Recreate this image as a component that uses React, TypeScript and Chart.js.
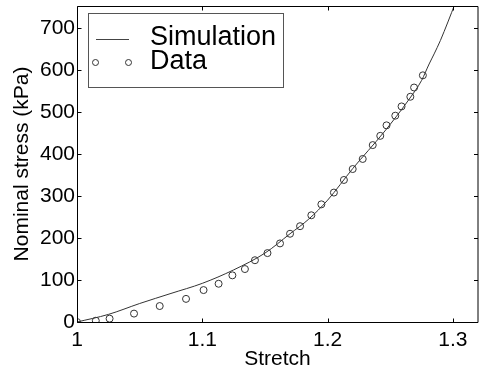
import React, { useEffect, useRef } from "react";
import { Chart, registerables } from "chart.js";

Chart.register(...registerables);

// Simulation curve (stretch, nominal stress in kPa)
const simStretch = [1.0, 1.025, 1.05, 1.075, 1.1, 1.125, 1.15, 1.17, 1.185, 1.2, 1.22, 1.245, 1.265, 1.275, 1.281, 1.285, 1.29, 1.296, 1.302];
const simStress = [0, 18, 44, 68, 92, 124, 164, 210, 245, 290, 365, 452, 530, 575, 614, 638, 670, 714, 760];

// Experimental data
const dataStretch = [1.0, 1.015, 1.026, 1.0455, 1.066, 1.087, 1.101, 1.113, 1.124, 1.134, 1.142, 1.152, 1.162, 1.17, 1.178, 1.187, 1.195, 1.205, 1.213, 1.22, 1.228, 1.236, 1.242, 1.247, 1.254, 1.259, 1.266, 1.269, 1.276];
const dataStress = [0, 3, 8, 20, 38, 55, 76, 91, 111, 126, 147, 164, 187, 210, 228, 254, 280, 308, 338, 364, 388, 421, 443, 468, 491, 513, 536, 558, 587];

const xTicks = [1, 1.1, 1.2, 1.3];
const yTicks = [0, 100, 200, 300, 400, 500, 600, 700];

const FONT = "'Liberation Sans', Arial, Helvetica, sans-serif";

const boxPlugin = {
  id: "matlabBox",
  afterDraw(chart: any) {
    const { ctx, chartArea } = chart;
    const { left, right, top, bottom } = chartArea;
    const xs = chart.scales.x;
    const ys = chart.scales.y;
    ctx.save();
    // axes box
    ctx.strokeStyle = "#000";
    ctx.lineWidth = 1;
    ctx.beginPath();
    ctx.rect(left + 0.5, top + 0.5, right - left - 0.5, bottom - top);
    ctx.stroke();
    // inward ticks on all four sides
    const tl = 4;
    ctx.beginPath();
    xTicks.forEach((v) => {
      const px = Math.round(xs.getPixelForValue(v)) + 0.5;
      ctx.moveTo(px, bottom + 0.5);
      ctx.lineTo(px, bottom + 0.5 - tl);
      ctx.moveTo(px, top + 0.5);
      ctx.lineTo(px, top + 0.5 + tl);
    });
    yTicks.forEach((v) => {
      const py = Math.round(ys.getPixelForValue(v)) + 0.5;
      ctx.moveTo(left + 0.5, py);
      ctx.lineTo(left + 0.5 + tl, py);
      ctx.moveTo(right, py);
      ctx.lineTo(right - tl, py);
    });
    ctx.stroke();

    // legend box
    const lx = 88.5, ly = 13.5, lw = 195, lh = 74;
    ctx.fillStyle = "#fff";
    ctx.fillRect(lx, ly, lw, lh);
    ctx.strokeStyle = "#555";
    ctx.strokeRect(lx, ly, lw, lh);
    ctx.strokeStyle = "#444";
    ctx.beginPath();
    ctx.moveTo(96, 39.5);
    ctx.lineTo(129, 39.5);
    ctx.stroke();
    ctx.strokeStyle = "#333";
    [95.5, 128.5].forEach((cx) => {
      ctx.beginPath();
      ctx.arc(cx, 62.5, 3, 0, Math.PI * 2);
      ctx.stroke();
    });
    ctx.fillStyle = "#000";
    ctx.font = `27px ${FONT}`;
    ctx.textBaseline = "alphabetic";
    ctx.textAlign = "left";
    ctx.fillText("Simulation", 150, 45);
    ctx.fillText("Data", 150, 68.5);
    ctx.restore();
  },
};

const zeroPad = (s: any) => {
  s.paddingTop = 0;
  s.paddingBottom = 0;
  s.paddingLeft = 0;
  s.paddingRight = 0;
};

export default function App() {
  const ref = useRef<HTMLCanvasElement>(null);
  useEffect(() => {
    if (!ref.current) return;
    const tickFont = { family: FONT, size: 21 };
    const chart = new Chart(ref.current, {
      type: "scatter",
      data: {
        datasets: [
          {
            label: "Simulation",
            type: "line",
            data: simStretch.map((x, i) => ({ x, y: simStress[i] })),
            borderColor: "#333",
            borderWidth: 1,
            pointRadius: 0,
            fill: false,
            cubicInterpolationMode: "monotone",
          } as any,
          {
            label: "Data",
            data: dataStretch.map((x, i) => ({ x, y: dataStress[i] })),
            borderColor: "#333",
            backgroundColor: "rgba(0,0,0,0)",
            borderWidth: 1,
            pointRadius: 3.5,
            pointStyle: "circle",
          },
        ],
      },
      options: {
        animation: false,
        responsive: false,
        events: [],
        layout: { autoPadding: false, padding: { left: 0, right: 1, top: 6, bottom: 0 } },
        plugins: { legend: { display: false }, tooltip: { enabled: false } },
        scales: {
          x: {
            type: "linear",
            min: 1,
            max: 1.32,
            grid: { display: false, drawTicks: false },
            border: { display: false },
            afterBuildTicks: (s: any) => {
              s.ticks = xTicks.map((v) => ({ value: v }));
            },
            afterFit: (s: any) => {
              s.height = 47;
              zeroPad(s);
            },
            ticks: {
              font: tickFont,
              color: "#000",
              padding: 6,
              maxRotation: 0,
              autoSkip: false,
              callback: (v: any) => String(v),
            },
            title: {
              display: true,
              text: "Stretch",
              font: { family: FONT, size: 21, lineHeight: 1 },
              color: "#000",
              padding: { top: 0, bottom: -1 },
            },
          },
          y: {
            type: "linear",
            min: 0,
            max: 752,
            grid: { display: false, drawTicks: false },
            border: { display: false },
            afterBuildTicks: (s: any) => {
              s.ticks = yTicks.map((v) => ({ value: v }));
            },
            afterFit: (s: any) => {
              s.width = 77;
              zeroPad(s);
            },
            ticks: {
              font: tickFont,
              color: "#000",
              padding: 2,
              autoSkip: false,
              callback: (v: any) => String(v),
            },
            title: {
              display: true,
              text: "Nominal stress (kPa)",
              font: { family: FONT, size: 21, lineHeight: 1 },
              color: "#000",
              padding: { top: 12, bottom: 0 },
            },
          },
        },
      },
      plugins: [boxPlugin],
    });
    return () => chart.destroy();
  }, []);
  return (
    <div style={{ position: "fixed", left: 0, top: 0, width: 479, height: 369, background: "#fff" }}>
      <canvas ref={ref} width={479} height={369} style={{ display: "block", width: 479, height: 369 }} />
    </div>
  );
}
